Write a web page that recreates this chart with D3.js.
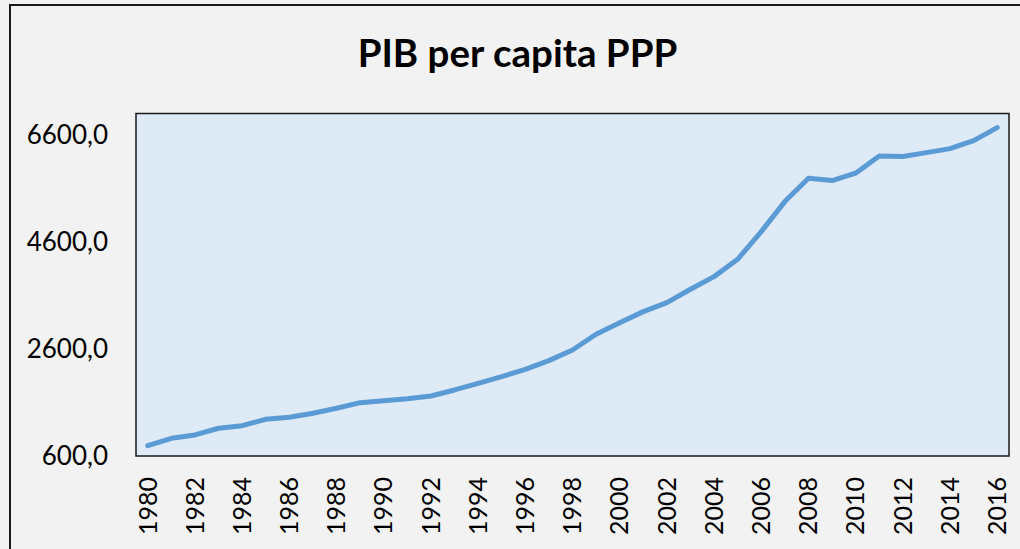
<!DOCTYPE html>
<html>
<head>
<meta charset="utf-8">
<script src="https://cdn.jsdelivr.net/npm/d3@7"></script>
<style>
  html, body { margin: 0; padding: 0; background: #F2F2F2; }
  svg { display: block; }
</style>
</head>
<body>
<script>
const title = "PIB per capita PPP";
const years = [1980,1981,1982,1983,1984,1985,1986,1987,1988,1989,1990,1991,1992,1993,1994,1995,1996,1997,1998,1999,2000,2001,2002,2003,2004,2005,2006,2007,2008,2009,2010,2011,2012,2013,2014,2015,2016];
const gdp = [793,931,993,1118,1167,1286,1323,1398,1492,1597,1634,1671,1721,1834,1958,2083,2220,2382,2581,2875,3092,3298,3466,3715,3952,4276,4793,5354,5790,5746,5884,6207,6195,6269,6344,6493,6736];
const yTicks = [600,2600,4600,6600];
const yDomain = [600,7000];
const xLabelYears = years.filter(y => y % 2 === 0);

const W = 1020, H = 549;
const plot = {left: 136, right: 1009, top: 113.5, bottom: 456};

const svg = d3.select("body").append("svg").attr("width", W).attr("height", H);

svg.append("rect").attr("width", W).attr("height", H).attr("fill", "#F2F2F2");
// outer chart border
svg.append("rect").attr("x", 10).attr("y", 5).attr("width", W + 20).attr("height", H + 20)
  .attr("fill", "none").attr("stroke", "#1a1a1a").attr("stroke-width", 2);

svg.append("text").attr("x", 517.5).attr("y", 66.7).attr("text-anchor", "middle")
  .attr("font-family", "Lato, 'Open Sans', sans-serif").attr("font-weight", "bold")
  .attr("font-size", 38.5).attr("fill", "#000").text(title);

const x = d3.scaleBand().domain(years).range([plot.left, plot.right]).paddingInner(0).paddingOuter(0);
const y = d3.scaleLinear().domain(yDomain).range([plot.bottom, plot.top]);

svg.append("rect").attr("x", plot.left).attr("y", plot.top)
  .attr("width", plot.right - plot.left).attr("height", plot.bottom - plot.top)
  .attr("fill", "#DEEAF6").attr("stroke", "#1a1a1a").attr("stroke-width", 1.5);

const line = d3.line().x((d, i) => x(years[i]) + x.bandwidth() / 2).y(d => y(d));
svg.append("path").datum(gdp).attr("d", line)
  .attr("fill", "none").attr("stroke", "#5B9BD5").attr("stroke-width", 5)
  .attr("stroke-linejoin", "round").attr("stroke-linecap", "round");

const fmt = v => d3.format(".1f")(v).replace(".", ",");
const yAxis = d3.axisLeft(y).tickValues(yTicks).tickFormat(fmt).tickSize(0).tickPadding(28);
const gy = svg.append("g").attr("transform", `translate(${plot.left},0)`).call(yAxis);
gy.select(".domain").remove();
gy.selectAll("text").attr("font-family", "Lato, 'Open Sans', sans-serif").attr("font-size", 26).attr("fill", "#000");

const xAxis = d3.axisBottom(x).tickValues(xLabelYears).tickSize(0).tickPadding(0);
const gx = svg.append("g").attr("transform", `translate(0,${plot.bottom})`).call(xAxis);
gx.select(".domain").remove();
gx.selectAll("text")
  .attr("font-family", "Lato, 'Open Sans', sans-serif").attr("font-size", 25).attr("fill", "#000")
  .attr("transform", "rotate(-90)").attr("text-anchor", "end")
  .attr("x", -21).attr("y", 0).attr("dy", "0.35em");
</script>
</body>
</html>
